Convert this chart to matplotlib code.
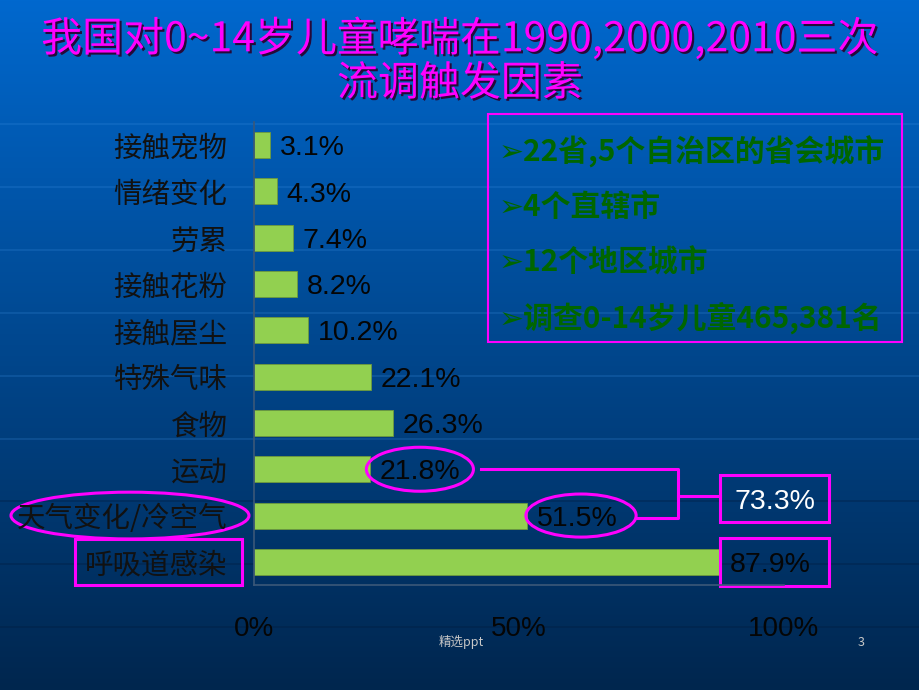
import numpy as np
import matplotlib
matplotlib.use("Agg")
import matplotlib.pyplot as plt
import matplotlib.patheffects as pe
from matplotlib.patches import Ellipse, Rectangle

plt.rcParams['font.family'] = ['Noto Sans CJK SC', 'DejaVu Sans']

# datos del grafico (de abajo hacia arriba)
categorias = ['呼吸道感染', '天气变化/冷空气', '运动', '食物', '特殊气味',
              '接触屋尘', '接触花粉', '劳累', '情绪变化', '接触宠物']
valores = [87.9, 51.5, 21.8, 26.3, 22.1, 10.2, 8.2, 7.4, 4.3, 3.1]
etiquetas = ['87.9%', '51.5%', '21.8%', '26.3%', '22.1%',
             '10.2%', '8.2%', '7.4%', '4.3%', '3.1%']
total_clima = '73.3%'
ticks_x = [0, 50, 100]
ticks_lbl = ['0%', '50%', '100%']

titulo1 = '我国对0~14岁儿童哮喘在1990,2000,2010三次'
titulo2 = '流调触发因素'
notas = ['➢22省,5个自治区的省会城市', '➢4个直辖市', '➢12个地区城市',
         '➢调查0-14岁儿童465,381名']

W, H = 920, 690
fig = plt.figure(figsize=(W / 100, H / 100), dpi=100)

# fondo degradado azul
bg = fig.add_axes([0, 0, 1, 1])
bg.set_xlim(0, W)
bg.set_ylim(H, 0)
bg.axis('off')
top = np.array([0, 104, 206]) / 255
bot = np.array([0, 38, 78]) / 255
t = np.linspace(0, 1, 256)[:, None]
grad = top + (bot - top) * t
bg.imshow(grad[:, None, :].repeat(2, axis=1), extent=[0, W, H, 0], aspect='auto')
for yl in np.arange(124, 640, 62.9):
    if yl < 470:
        bg.axhline(yl, color='#3a8ee0', alpha=0.25, lw=1.2)
    else:
        bg.axhline(yl, color='#001c40', alpha=0.4, lw=1.2)

# titulo con sombra
sombra = [pe.withSimplePatchShadow(offset=(1.5, -1.5), shadow_rgbFace='#2a002a', alpha=0.9)]
fig.text(0.5, 1 - 39 / H, titulo1, color='#FF00FF', fontsize=29.5, ha='center', va='center',
         path_effects=sombra)
fig.text(0.5, 1 - 84 / H, titulo2, color='#FF00FF', fontsize=29.5, ha='center', va='center',
         path_effects=sombra)

# ejes del grafico
ax = fig.add_axes([254 / W, 1 - 585 / H, 530 / W, (585 - 122) / H])
ax.patch.set_alpha(0)
y = np.arange(len(categorias))
ax.barh(y, valores, height=0.56, color='#92D050', edgecolor='#6f9a3c', linewidth=0.6)
ax.set_xlim(0, 100)
ax.set_ylim(-0.5, len(categorias) - 0.5)
ax.set_yticks(y)
ax.set_yticklabels(categorias, fontsize=20.5, color='#111111')
ax.set_xticks(ticks_x)
ax.set_xticklabels(ticks_lbl, fontsize=20, color='#050505', family='Liberation Sans')
ax.tick_params(axis='y', length=0, pad=19)
ax.tick_params(axis='x', length=0, pad=22)
for s in ['top', 'right']:
    ax.spines[s].set_visible(False)
for s in ['left', 'bottom']:
    ax.spines[s].set_color('#3b5878')
    ax.spines[s].set_linewidth(1.2)

for yi, v, lb in zip(y, valores, etiquetas):
    ax.annotate(lb, (v, yi), xytext=(7, -7.3), textcoords='offset points', va='baseline',
                ha='left', fontsize=20.5, color='#050505', family='Liberation Sans')

# anotaciones en magenta
mag = '#FF00FF'
ax.add_patch(Ellipse((31.3, 2), 20.2, 0.95, fill=False, ec=mag, lw=2.2, clip_on=False))
ax.add_patch(Ellipse((61.7, 1), 20.8, 0.93, fill=False, ec=mag, lw=2.2, clip_on=False))
ax.add_patch(Ellipse((-23.4, 1), 44.9, 1.01, fill=False, ec=mag, lw=2.2, clip_on=False))
ax.add_patch(Rectangle((-33.8, -0.49), 31.5, 0.99, fill=False, ec=mag, lw=2.2, clip_on=False))
ax.add_patch(Rectangle((87.9, -0.52), 20.6, 1.04, fill=False, ec=mag, lw=2.2, clip_on=False))
ax.add_patch(Rectangle((87.9, 0.86), 20.6, 1.02, fill=False, ec=mag, lw=2.2, clip_on=False))
ax.annotate(total_clima, (87.9 + 10.3, 1.37), xytext=(0, -7.3), textcoords='offset points',
            color='white', fontsize=20.5, ha='center', va='baseline', family='Liberation Sans')
ax.plot([42.8, 80.0, 80.0, 72.3], [2.0, 2.0, 0.95, 0.95], color=mag, lw=2.2, clip_on=False)
ax.plot([80.0, 87.9], [1.42, 1.42], color=mag, lw=2.2, clip_on=False)

# cuadro de notas
fig.add_artist(Rectangle((488 / W, 1 - 342 / H), (902 - 488) / W, (342 - 114) / H,
                         transform=fig.transFigure, fill=False, ec=mag, lw=1.5))
for i, nt in enumerate(notas):
    fig.text(499 / W, 1 - (152 + 55.2 * i) / H, nt, color='#006600', fontsize=21.5,
             fontweight='bold', ha='left', va='center')

# pie de pagina
fig.text(461 / W, 1 - 642 / H, '精选ppt', color='#c8c8c8', fontsize=9, ha='center', va='center')
fig.text(861 / W, 1 - 642 / H, '3', color='#c8c8c8', fontsize=9, ha='center', va='center')

fig.savefig('out.png', dpi=100)
